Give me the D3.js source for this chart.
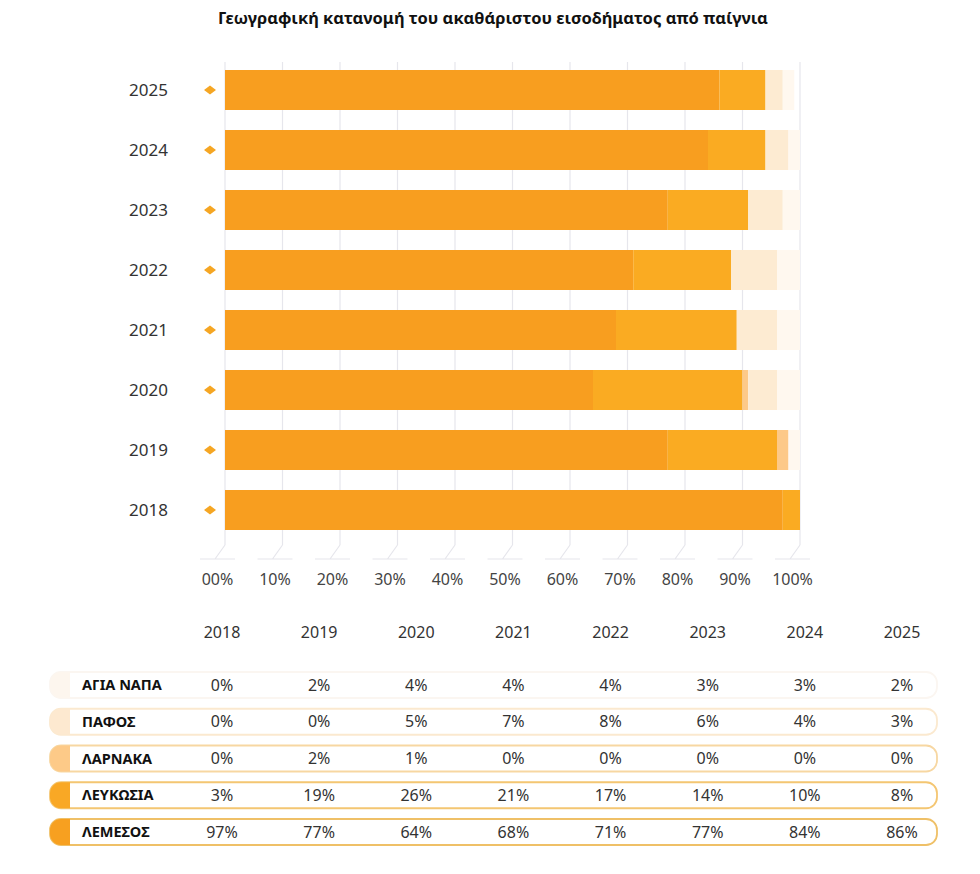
<!DOCTYPE html>
<html>
<head>
<meta charset="utf-8">
<script src="https://cdn.jsdelivr.net/npm/d3@7"></script>
<style>
  body { margin: 0; background: #fff; }
  text { font-family: "Noto Sans", "DejaVu Sans", sans-serif; }
</style>
</head>
<body>
<div id="chart"></div>
<script>
// Data
var years = ['2018', '2019', '2020', '2021', '2022', '2023', '2024', '2025'];
var regions = ['ΛΕΜΕΣΟΣ', 'ΛΕΥΚΩΣΙΑ', 'ΛΑΡΝΑΚΑ', 'ΠΑΦΟΣ', 'ΑΓΙΑ ΝΑΠΑ'];
var lemesos  = [97, 77, 64, 68, 71, 77, 84, 86];
var lefkosia = [3, 19, 26, 21, 17, 14, 10, 8];
var larnaka  = [0, 2, 1, 0, 0, 0, 0, 0];
var pafos    = [0, 0, 5, 7, 8, 6, 4, 3];
var agiaNapa = [0, 2, 4, 4, 4, 3, 3, 2];
var axisTicks = [0, 10, 20, 30, 40, 50, 60, 70, 80, 90, 100];

var seriesValues = [lemesos, lefkosia, larnaka, pafos, agiaNapa];
var barColors = ['#f89e1f', '#faab22', '#fdc988', '#fdebd2', '#fff8ef'];
var capColors = ['#f7a020', '#f9a825', '#fdca88', '#fde9d0', '#fdf6ee'];
var borderColors = ['#efc067', '#f4c672', '#f7d7a2', '#fbe9cf', '#fbf6f1'];

var rows = years.map(function (y, i) {
  var r = { year: y };
  regions.forEach(function (reg, k) { r[reg] = seriesValues[k][i]; });
  return r;
});

var width = 980, height = 874;

var svg = d3.select('#chart')
  .append('svg')
  .attr('width', width)
  .attr('height', height);

// Title
svg.append('text')
  .attr('x', 493)
  .attr('y', 24)
  .attr('text-anchor', 'middle')
  .attr('font-size', '16.5px')
  .attr('font-weight', 'bold')
  .attr('fill', '#111')
  .text('Γεωγραφική κατανομή του ακαθάριστου εισοδήματος από παίγνια');

// Scales
var scaleX = d3.scaleLinear()
  .domain([0, 100])
  .range([225, 800]);

var scaleY = d3.scaleBand()
  .domain(years.slice().reverse())
  .range([60, 540])
  .paddingInner(1 / 3)
  .paddingOuter(1 / 6);

// Grid + slanted ticks
var grid = svg.append('g');
grid.selectAll('line.grid')
  .data(axisTicks)
  .enter()
  .append('line')
  .attr('class', 'grid')
  .attr('x1', function (d) { return scaleX(d); })
  .attr('x2', function (d) { return scaleX(d); })
  .attr('y1', 62)
  .attr('y2', 545)
  .attr('stroke', '#e6e6ec')
  .attr('stroke-width', 1.2);

grid.selectAll('path.tick')
  .data(axisTicks)
  .enter()
  .append('path')
  .attr('class', 'tick')
  .attr('d', function (d) {
    var x = scaleX(d);
    return 'M' + x + ',545 L' + (x - 10) + ',559 M' + (x - 25) + ',559 H' + (x + 10);
  })
  .attr('fill', 'none')
  .attr('stroke', '#e6e6ec')
  .attr('stroke-width', 1.2);

// Axis labels
var axisX = d3.axisBottom(scaleX)
  .tickValues(axisTicks)
  .tickSize(0)
  .tickFormat(function (d) { return d3.format('02d')(d) + '%'; });

var axisG = svg.append('g')
  .attr('transform', 'translate(-8, 571)')
  .call(axisX);
axisG.select('.domain').remove();
axisG.selectAll('text')
  .attr('font-size', '16px')
  .attr('fill', '#444')
  .attr('font-family', '"Noto Sans", sans-serif');

// Stacked bars
var stack = d3.stack().keys(regions);
var stacked = stack(rows);

var bars = svg.append('g');
bars.selectAll('g')
  .data(stacked)
  .enter()
  .append('g')
  .attr('fill', function (d, i) { return barColors[i]; })
  .selectAll('rect')
  .data(function (d) { return d; })
  .enter()
  .append('rect')
  .attr('x', function (d) { return scaleX(d[0]); })
  .attr('y', function (d) { return scaleY(d.data.year); })
  .attr('width', function (d) { return Math.max(0, Math.min(scaleX(d[1]), scaleX(100)) - scaleX(d[0])); })
  .attr('height', scaleY.bandwidth());

// Year labels + diamonds
var yLabels = svg.append('g');
yLabels.selectAll('text')
  .data(years)
  .enter()
  .append('text')
  .attr('x', 168)
  .attr('y', function (d) { return scaleY(d) + scaleY.bandwidth() / 2; })
  .attr('dy', '0.35em')
  .attr('text-anchor', 'end')
  .attr('font-size', '17px')
  .attr('fill', '#333')
  .text(function (d) { return d; });

yLabels.selectAll('path')
  .data(years)
  .enter()
  .append('path')
  .attr('d', function (d) {
    var cx = 210, cy = scaleY(d) + scaleY.bandwidth() / 2;
    return 'M' + (cx - 6) + ',' + cy + ' L' + cx + ',' + (cy - 4.5) + ' L' + (cx + 6) + ',' + cy + ' L' + cx + ',' + (cy + 4.5) + 'Z';
  })
  .attr('fill', '#f5a623');

// Table
var colX = d3.scalePoint()
  .domain(years)
  .range([222, 902]);

svg.append('g')
  .selectAll('text')
  .data(years)
  .enter()
  .append('text')
  .attr('x', function (d) { return colX(d); })
  .attr('y', 638)
  .attr('text-anchor', 'middle')
  .attr('font-size', '16px')
  .attr('fill', '#333')
  .text(function (d) { return d; });

var tableOrder = ['ΑΓΙΑ ΝΑΠΑ', 'ΠΑΦΟΣ', 'ΛΑΡΝΑΚΑ', 'ΛΕΥΚΩΣΙΑ', 'ΛΕΜΕΣΟΣ'];
var rowY = d3.scalePoint()
  .domain(tableOrder)
  .range([685, 832]);

var rowH = 26, rowX = 50, rowW = 887, capW = 20, r = 11;

var tRows = svg.append('g')
  .selectAll('g')
  .data(tableOrder)
  .enter()
  .append('g')
  .attr('transform', function (d) { return 'translate(0,' + (rowY(d) - rowH / 2) + ')'; });

tRows.append('rect')
  .attr('x', rowX)
  .attr('y', 0)
  .attr('width', rowW)
  .attr('height', rowH)
  .attr('rx', r)
  .attr('fill', '#fff')
  .attr('stroke', function (d) { return borderColors[regions.indexOf(d)]; })
  .attr('stroke-width', 1.8);

tRows.append('path')
  .attr('d', 'M' + (rowX + capW) + ',0 H' + (rowX + r) +
    ' A' + r + ',' + r + ' 0 0 0 ' + rowX + ',' + r +
    ' V' + (rowH - r) +
    ' A' + r + ',' + r + ' 0 0 0 ' + (rowX + r) + ',' + rowH +
    ' H' + (rowX + capW) + ' Z')
  .attr('fill', function (d) { return capColors[regions.indexOf(d)]; });

tRows.append('text')
  .attr('x', 82)
  .attr('y', rowH / 2)
  .attr('dy', '0.35em')
  .attr('font-size', '14.5px')
  .attr('font-weight', 'bold')
  .attr('fill', '#111')
  .text(function (d) { return d; });

tRows.selectAll('text.val')
  .data(function (d) {
    var vals = seriesValues[regions.indexOf(d)];
    return years.map(function (y, i) { return { year: y, v: vals[i] }; });
  })
  .enter()
  .append('text')
  .attr('class', 'val')
  .attr('x', function (d) { return colX(d.year); })
  .attr('y', rowH / 2)
  .attr('dy', '0.35em')
  .attr('text-anchor', 'middle')
  .attr('font-size', '16px')
  .attr('fill', '#333')
  .text(function (d) { return d.v + '%'; });
</script>
</body>
</html>
